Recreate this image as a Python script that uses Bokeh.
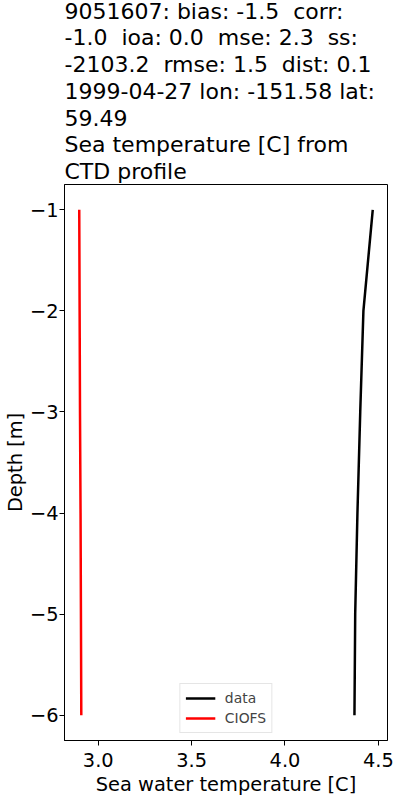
from bokeh.plotting import figure
from bokeh.models import Range1d, FixedTicker, Legend, LegendItem
from bokeh.embed import file_html
from bokeh.resources import INLINE

depth = [-1, -2, -3, -4, -5, -6]
data_temp = [4.47, 4.42, 4.403, 4.388, 4.376, 4.372]
ciofs_temp = [2.898, 2.900, 2.902, 2.905, 2.907, 2.909]

x_ticks = [3.0, 3.5, 4.0, 4.5]
x_tick_labels = ["3.0", "3.5", "4.0", "4.5"]
y_ticks = [-6, -5, -4, -3, -2, -1]
y_tick_labels = ["\u22126", "\u22125", "\u22124", "\u22123", "\u22122", "\u22121"]

NB = "\u00a0"
title_lines = [
    "9051607: bias: -1.5" + NB + " corr:",
    "-1.0" + NB + " ioa: 0.0" + NB + " mse: 2.3" + NB + " ss:",
    "-2103.2" + NB + " rmse: 1.5" + NB + " dist: 0.1",
    "1999-04-27 lon: -151.58 lat:",
    "59.49",
    "Sea temperature [C] from",
    "CTD profile",
]

FONT = "DejaVu Sans"

p = figure(frame_width=323, frame_height=556, output_backend="svg", toolbar_location=None,
           x_range=Range1d(2.819, 4.549), y_range=Range1d(-6.25, -0.75),
           min_border_left=59, min_border_right=8, min_border_top=179, min_border_bottom=55)

p.title.text = "\n".join(title_lines)
p.title.text_font = FONT
p.title.text_font_size = "22px"
p.title.text_font_style = "normal"
p.title.text_color = "black"
p.title.text_line_height = 1.07
p.title.align = "left"
p.title.vertical_align = "top"
p.title.offset = 0
p.title.standoff = -4

r1 = p.line(data_temp, depth, line_color="black", line_width=2.5)
r2 = p.line(ciofs_temp, depth, line_color="red", line_width=2.5)

p.xaxis.ticker = FixedTicker(ticks=x_ticks)
p.xaxis.major_label_overrides = {t: l for t, l in zip(x_ticks, x_tick_labels)}
p.yaxis.ticker = FixedTicker(ticks=y_ticks)
p.yaxis.major_label_overrides = {t: l for t, l in zip(y_ticks, y_tick_labels)}

for ax in (p.xaxis[0], p.yaxis[0]):
    ax.major_label_text_font = FONT
    ax.major_label_text_font_size = "19.4px"
    ax.major_label_text_color = "black"
    ax.axis_label_text_font = FONT
    ax.axis_label_text_font_size = "19.4px"
    ax.axis_label_text_font_style = "normal"
    ax.axis_label_text_color = "black"
    ax.axis_line_color = "black"
    ax.major_tick_line_color = "black"
    ax.major_tick_out = 5
    ax.major_tick_in = 0
    ax.minor_tick_line_color = None

p.xaxis.axis_label = "Sea water temperature [C]"
p.yaxis.axis_label = "Depth [m]"
p.xaxis.major_label_standoff = 7
p.xaxis.axis_label_standoff = 3
p.yaxis.major_label_standoff = 1
p.yaxis.axis_label_standoff = 0
p.yaxis.major_label_orientation = "horizontal"

p.xgrid.grid_line_color = None
p.ygrid.grid_line_color = None
p.outline_line_color = "black"
p.outline_line_width = 1
p.outline_line_alpha = 1

legend = Legend(items=[LegendItem(label="data", renderers=[r1]),
                       LegendItem(label="CIOFS", renderers=[r2])],
                location="bottom_center")
legend.label_text_font = FONT
legend.label_text_font_size = "13.9px"
legend.glyph_width = 30
legend.glyph_height = 18
legend.label_height = 18
legend.label_standoff = 10
legend.spacing = 2
legend.padding = 5
legend.margin = 7
legend.border_line_color = "#cccccc"
legend.background_fill_alpha = 0.8
p.add_layout(legend)

open("out.html", "w").write(file_html(p, INLINE))
